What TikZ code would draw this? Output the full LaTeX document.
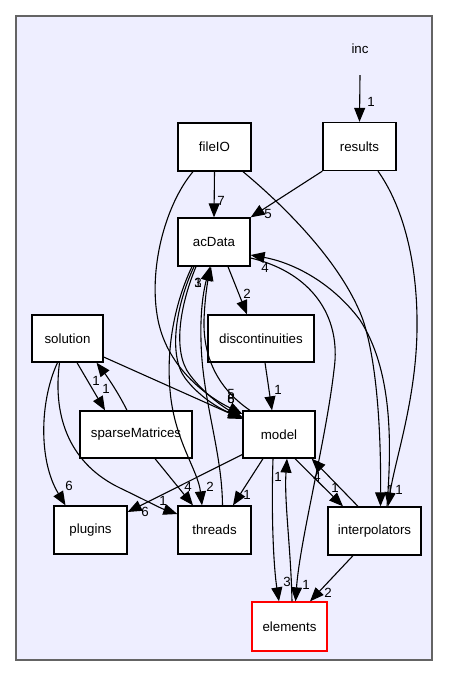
\documentclass[tikz,border=0pt]{standalone}
\usepackage{fontspec}
\setmainfont{Liberation Sans}
\usetikzlibrary{arrows.meta}
\definecolor{clusterfill}{RGB}{238,238,255}
\definecolor{clusterline}{RGB}{100,100,100}
\tikzset{
  dirbox/.style={draw=black,fill=white,line width=1.3pt,inner sep=0pt,
    font=\fontsize{13.3}{15}\selectfont},
  conn/.style={draw=black,line width=1.1pt,-{Triangle[length=14pt,width=11pt]}},
  lbl/.style={inner sep=0pt,font=\fontsize{13.3}{15}\selectfont},
}
\begin{document}
\begin{tikzpicture}[x=1pt,y=-1pt]
\useasboundingbox (0,0) rectangle (448,677);
\fill[white] (0,0) rectangle (448,677);
\draw[fill=clusterfill,draw=clusterline,line width=1.5pt] (16,16) rectangle (432,660);

% nodes
\node[inner sep=0pt,minimum width=40pt,minimum height=52pt,font=\fontsize{13.3}{15}\selectfont] (inc) at (360,49) {inc};
\node[dirbox,minimum width=73pt,minimum height=48pt] (results) at (359.5,146.5) {results};
\node[dirbox,minimum width=73pt,minimum height=48pt] (fileIO) at (214.5,147) {fileIO};
\node[dirbox,minimum width=72pt,minimum height=48pt] (acData) at (214,242) {acData};
\node[dirbox,minimum width=106pt,minimum height=47pt] (disc) at (261,338.5) {discontinuities};
\node[dirbox,minimum width=71pt,minimum height=47pt] (solution) at (67.5,338.5) {solution};
\node[dirbox,minimum width=112pt,minimum height=47pt] (sparse) at (136,434.5) {sparseMatrices};
\node[dirbox,minimum width=72pt,minimum height=47pt] (model) at (279,434.5) {model};
\node[dirbox,minimum width=73pt,minimum height=48pt] (plugins) at (90.5,530) {plugins};
\node[dirbox,minimum width=73pt,minimum height=48pt] (threads) at (214.5,530) {threads};
\node[dirbox,minimum width=93pt,minimum height=48pt] (interp) at (374.5,531) {interpolators};
\node[dirbox,draw=red,minimum width=75pt,minimum height=49pt] (elements) at (289.5,626.5) {elements};

% connectors
\draw[conn] (inc.south) -- (results.north);
\draw[conn] (fileIO.south) -- (acData.north);
\draw[conn] (results.south west) -- (acData.north east);
\draw[conn] ([shift={(-21.5,0)}]fileIO.south) .. controls (165,205) and (148,270) .. (158,320)
   .. controls (168,370) and (210,398) .. ([shift={(0,-20.5)}]model.west);
\draw[conn] ([shift={(28.5,0)}]fileIO.south) .. controls (295,215) and (345,270) .. (363,320)
   .. controls (378,365) and (381,440) .. ([shift={(6,0)}]interp.north);
\draw[conn] ([shift={(18.5,0)}]results.south) .. controls (402,205) and (418,260) .. (417,330)
   .. controls (416,400) and (395,460) .. ([shift={(13.5,0)}]interp.north);
\draw[conn] ([shift={(12.5,0)}]interp.north) .. controls (392,440) and (392,370) .. (360,320)
   .. controls (330,280) and (290,262) .. ([shift={(0,13)}]acData.east);
\draw[conn] ([shift={(0,16)}]acData.east) .. controls (310,272) and (342,315) .. (334,370)
   .. controls (326,440) and (300,540) .. ([shift={(6,0)}]elements.north);
\draw[conn] ([shift={(14,0)}]acData.south) -- ([shift={(-14,0)}]disc.north);
\draw[conn] ([shift={(4,0)}]disc.south) -- ([shift={(-7,0)}]model.north);
\draw[conn] ([shift={(-22,0)}]acData.south) .. controls (176,300) and (166,345) .. (170,390)
   .. controls (174,440) and (198,470) .. ([shift={(-12.5,0)}]threads.north);
\draw[conn] ([shift={(-20,0)}]acData.south) .. controls (176,305) and (168,355) .. (185,378)
   .. controls (200,398) and (222,410) .. ([shift={(0,-17.5)}]model.west);
\draw[conn] ([shift={(-18,0)}]acData.south) .. controls (180,305) and (172,352) .. (190,375)
   .. controls (205,395) and (225,408) .. ([shift={(0,-16.5)}]model.west);
\draw[conn] ([shift={(8,0)}]threads.north) .. controls (222,450) and (202,400) .. (201,340)
   .. controls (200,305) and (205,285) .. ([shift={(-4,0)}]acData.south);
\draw[conn] ([shift={(-29,0)}]model.north) .. controls (220,390) and (203,360) .. (204,320)
   .. controls (205,295) and (208,280) .. ([shift={(-3,0)}]acData.south);
\draw[conn] ([shift={(0,18.5)}]solution.east) -- ([shift={(0,-15.5)}]model.west);
\draw[conn] ([shift={(9.5,0)}]solution.south) -- ([shift={(-31,0)}]sparse.north);
\draw[conn] ([shift={(-9,0)}]sparse.north) .. controls (118,392) and (106,375) .. ([shift={(29,0)}]solution.south);
\draw[conn] ([shift={(-10,0)}]solution.south) .. controls (40,400) and (38,460) .. ([shift={(-25,0)}]plugins.north);
\draw[conn] ([shift={(-8,0)}]solution.south) .. controls (52,420) and (72,465) .. (120,488)
   .. controls (145,500) and (160,508) .. ([shift={(0,-16)}]threads.west);
\draw[conn] ([shift={(19,0)}]sparse.south) -- ([shift={(-21.5,0)}]threads.north);
\draw[conn] ([shift={(-16,0)}]model.south) -- ([shift={(18.5,0)}]threads.north);
\draw[conn] ([shift={(0,20)}]model.west) -- ([shift={(0,-18)}]plugins.east);
\draw[conn] ([shift={(-6,0)}]model.south) .. controls (271,520) and (274,570) .. ([shift={(-10.5,0)}]elements.north);
\draw[conn] ([shift={(2.5,0)}]elements.north) .. controls (291,550) and (284,500) .. ([shift={(8,0)}]model.south);
\draw[conn] ([shift={(16,0)}]model.south) -- ([shift={(-31.5,0)}]interp.north);
\draw[conn] ([shift={(-16.5,0)}]interp.north) -- ([shift={(-4,0)}]model.south east);
\draw[conn] ([shift={(-21.5,0)}]interp.south) -- ([shift={(20.5,0)}]elements.north);

% labels
\node[lbl] (l1) at (371,102) {1};
\node[lbl] (l2) at (221,201) {7};
\node[lbl] (l3) at (268,214) {5};
\node[lbl] (l4) at (265,268) {4};
\node[lbl] (l5) at (247,294) {2};
\node[lbl] (l6) at (278,390) {1};
\node[lbl] (l7) at (198,283) {3};
\node[lbl] (l8) at (198,283) {1};
\node[lbl] (l9) at (231,394) {5};
\node[lbl] (l10) at (231,399) {8};
\node[lbl] (l11) at (231,399) {6};
\node[lbl] (l12) at (106,389) {1};
\node[lbl] (l13) at (96,381) {1};
\node[lbl] (l14) at (69,486) {6};
\node[lbl] (l15) at (163,501) {1};
\node[lbl] (l16) at (145,512) {6};
\node[lbl] (l17) at (188,487) {4};
\node[lbl] (l18) at (210,487) {2};
\node[lbl] (l19) at (247,495) {1};
\node[lbl] (l20) at (287,582) {3};
\node[lbl] (l21) at (278,477) {1};
\node[lbl] (l22) at (306,585) {1};
\node[lbl] (l23) at (328,593) {2};
\node[lbl] (l24) at (335,488) {1};
\node[lbl] (l25) at (317,477) {4};
\node[lbl] (l26) at (390,490) {1};
\node[lbl] (l27) at (399,490) {1};
\end{tikzpicture}
\end{document}
